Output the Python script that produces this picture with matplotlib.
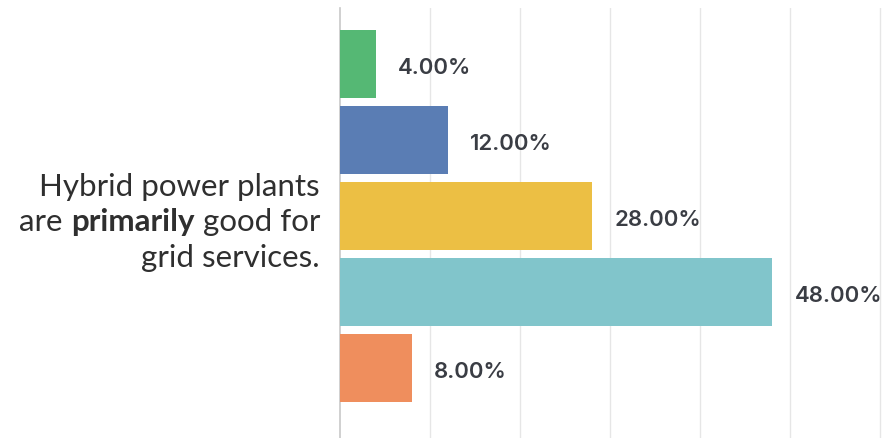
import matplotlib.pyplot as plt

categories = ['A', 'B', 'C', 'D', 'E']
values = [4, 12, 28, 48, 8]
value_labels = ['4.00%', '12.00%', '28.00%', '48.00%', '8.00%']
colors = ['#55b874', '#5a7db4', '#ecbf44', '#81c5cb', '#ef8e5d']

fig = plt.figure(figsize=(8.85, 4.38), dpi=100)
ax = fig.add_axes([340 / 885, 0, 544 / 885, 430 / 438])

ypos = list(range(len(categories)))
ax.barh(ypos, values, height=0.9, color=colors, zorder=3)
ax.set_xlim(0, 60.4)
ax.set_ylim(4.92, -0.74)

for y, v, lab in zip(ypos, values, value_labels):
    ax.annotate(lab, xy=(v, y), xytext=(16, -2.5), textcoords='offset points',
                ha='left', va='center', fontsize=16, fontweight='semibold',
                family='Inter', color='#3a3d44')

ax.set_xticks([10, 20, 30, 40, 50, 60])
ax.grid(axis='x', color='#e6e6e6', linewidth=1, zorder=0)
ax.tick_params(length=0, labelbottom=False, labelleft=False)
for s in ['top', 'right', 'bottom']:
    ax.spines[s].set_visible(False)
ax.spines['left'].set_color('#c8c8c8')
ax.spines['left'].set_linewidth(1.2)

# question label, right aligned, with one bold word
lab_font = dict(family='Lato', fontsize=22.5, color='#2f2f2f')
fig.text(320 / 885, 1 - 187 / 438, 'Hybrid power plants', ha='right', va='center', **lab_font)
t3 = fig.text(320 / 885, 1 - 222 / 438, 'good for', ha='right', va='center', **lab_font)
t2 = ax.annotate('primarily', xy=(0, 0), xycoords=t3, xytext=(-6, 0),
                 textcoords='offset points', ha='right', va='bottom',
                 fontweight='bold', annotation_clip=False, **lab_font)
ax.annotate('are', xy=(0, 0), xycoords=t2, xytext=(-6, 0),
            textcoords='offset points', ha='right', va='bottom',
            annotation_clip=False, **lab_font)
fig.text(320 / 885, 1 - 258 / 438, 'grid services.', ha='right', va='center', **lab_font)

fig.savefig('out.png', dpi=100)
